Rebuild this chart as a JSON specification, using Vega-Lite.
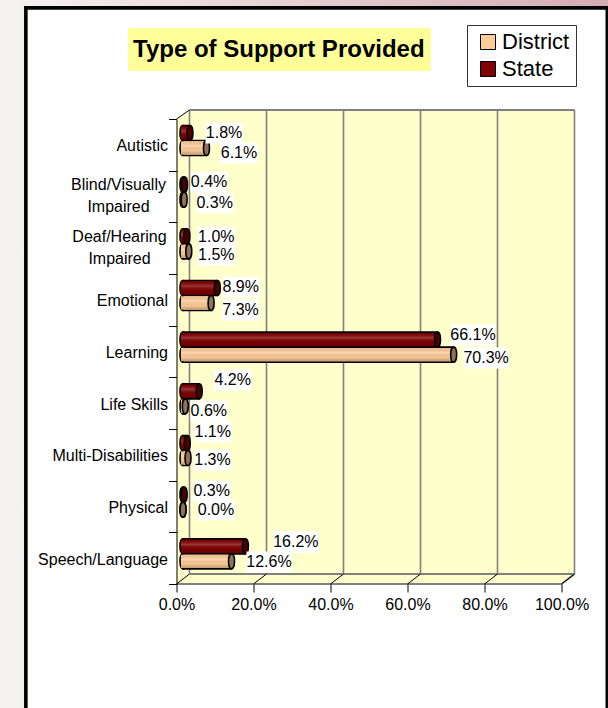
{"$schema":"https://vega.github.io/schema/vega-lite/v6.json","width":385,"height":465,"autosize":"none","padding":{"left":176.5,"top":119,"right":46.5,"bottom":124},"background":"#ffffff",
"title":{"text":"Type of Support Provided","anchor":"start","frame":"group","dx":-43.5,"offset":-86,"baseline":"bottom","font":"Liberation Sans","fontSize":24,"fontWeight":"bold","color":"#000000","zindex":1},
"datasets":{"rows":[
{"id":"AS","category":"Autistic","series":"State","value":0.018},{"id":"AD","category":"Autistic","series":"District","value":0.061},
{"id":"BS","category":"Blind/Visually Impaired","series":"State","value":0.004},{"id":"BD","category":"Blind/Visually Impaired","series":"District","value":0.003},
{"id":"HS","category":"Deaf/Hearing Impaired","series":"State","value":0.010},{"id":"HD","category":"Deaf/Hearing Impaired","series":"District","value":0.015},
{"id":"ES","category":"Emotional","series":"State","value":0.089},{"id":"ED","category":"Emotional","series":"District","value":0.073},
{"id":"LS","category":"Learning","series":"State","value":0.661},{"id":"LD","category":"Learning","series":"District","value":0.703},
{"id":"KS","category":"Life Skills","series":"State","value":0.042},{"id":"KD","category":"Life Skills","series":"District","value":0.006},
{"id":"MS","category":"Multi-Disabilities","series":"State","value":0.011},{"id":"MD","category":"Multi-Disabilities","series":"District","value":0.013},
{"id":"PS","category":"Physical","series":"State","value":0.003},{"id":"PD","category":"Physical","series":"District","value":0.0},
{"id":"SS","category":"Speech/Language","series":"State","value":0.162},{"id":"SD","category":"Speech/Language","series":"District","value":0.126}],
"ticks":[{"t":0},{"t":0.2},{"t":0.4},{"t":0.6},{"t":0.8},{"t":1}],
"wall":[{"x":0,"top":100,"bottom":0},{"x":0.034,"top":101.94,"bottom":0},{"x":1,"top":101.94,"bottom":0},{"x":1.034,"top":101.94,"bottom":2.15}]},
"layer":[
{"layer":[
{"data":{"values":[{"a":1}]},"mark":{"type":"rect","fill":{"gradient":"linear","x1":0,"y1":0,"x2":1,"y2":0,"stops":[{"offset":0,"color":"#f6f3f2"},{"offset":1,"color":"#d4abb5"}]}},
"encoding":{"x":{"datum":-0.4584,"type":"quantitative","scale":{"domain":[0,1],"nice":false},"axis":{"values":[0,0.2,0.4,0.6,0.8,1],"format":".1%","title":null,"grid":false,"domain":false,"ticks":true,"tickColor":"#000000","tickSize":8,"labelFont":"Liberation Sans","labelFontSize":16,"labelColor":"#000000","labelPadding":4,"labelFlush":false,"zindex":1}},"x2":{"datum":1.1208},"y":{"datum":-26.67,"type":"quantitative","scale":{"domain":[0,100],"nice":false,"zero":false},"axis":null},"y2":{"datum":125.6}}},
{"data":{"values":[{"a":1}]},"mark":{"type":"rect","fill":"#ffffff","stroke":"#000000","strokeWidth":3.6},
"encoding":{"x":{"datum":-0.3913,"type":"quantitative","scale":{"domain":[0,1],"nice":false}},"x2":{"datum":1.119},"y":{"datum":-40,"type":"quantitative","scale":{"domain":[0,100],"nice":false,"zero":false}},"y2":{"datum":123.9}}},
{"data":{"values":[{"a":1}]},"mark":{"type":"rect","fill":"#ffff99"},
"encoding":{"x":{"datum":-0.126,"type":"quantitative","scale":{"domain":[0,1],"nice":false}},"x2":{"datum":0.661},"y":{"datum":110.3,"type":"quantitative","scale":{"domain":[0,100],"nice":false,"zero":false}},"y2":{"datum":119.57}}},
{"data":{"name":"wall"},"mark":{"type":"area","fill":"#ffffcc","interpolate":"linear"},
"encoding":{"x":{"field":"x","type":"quantitative","scale":{"domain":[0,1],"nice":false}},"y":{"field":"top","type":"quantitative","scale":{"domain":[0,100],"nice":false,"zero":false}},"y2":{"field":"bottom"}}},
{"data":{"name":"ticks"},"mark":{"type":"rule","color":"#808080","strokeWidth":1.6,"xOffset":13},
"encoding":{"x":{"field":"t","type":"quantitative","scale":{"domain":[0,1],"nice":false}},"y":{"datum":2.15,"type":"quantitative","scale":{"domain":[0,100],"nice":false,"zero":false}},"y2":{"datum":101.94}}},
{"data":{"values":[{"a":1}]},"mark":{"type":"rule","color":"#808080","strokeWidth":2,"xOffset":13,"x2Offset":13},
"encoding":{"x":{"datum":0,"type":"quantitative","scale":{"domain":[0,1],"nice":false}},"x2":{"datum":1},"y":{"datum":101.94,"type":"quantitative","scale":{"domain":[0,100],"nice":false,"zero":false}}}},
{"data":{"values":[{"a":1}]},"mark":{"type":"rule","color":"#808080","strokeWidth":2,"xOffset":13,"x2Offset":13},
"encoding":{"x":{"datum":0,"type":"quantitative","scale":{"domain":[0,1],"nice":false}},"x2":{"datum":1},"y":{"datum":2.15,"type":"quantitative","scale":{"domain":[0,100],"nice":false,"zero":false}}}},
{"data":{"values":[{"a":1}]},"mark":{"type":"rule","color":"#808080","strokeWidth":2},
"encoding":{"x":{"datum":0,"type":"quantitative","scale":{"domain":[0,1],"nice":false}},"x2":{"datum":1},"y":{"datum":0,"type":"quantitative","scale":{"domain":[0,100],"nice":false,"zero":false}}}},
{"data":{"values":[{"a":1}]},"mark":{"type":"rule","color":"#808080","strokeWidth":2,"x2Offset":13},
"encoding":{"x":{"datum":1,"type":"quantitative","scale":{"domain":[0,1],"nice":false}},"x2":{"datum":1},"y":{"datum":0,"type":"quantitative","scale":{"domain":[0,100],"nice":false,"zero":false}},"y2":{"datum":2.15}}},
{"data":{"name":"ticks"},"mark":{"type":"rule","color":"#000000","strokeWidth":1,"x2Offset":13},
"encoding":{"x":{"field":"t","type":"quantitative","scale":{"domain":[0,1],"nice":false}},"x2":{"field":"t"},"y":{"datum":0,"type":"quantitative","scale":{"domain":[0,100],"nice":false,"zero":false}},"y2":{"datum":2.15}}},
{"data":{"values":[{"a":1}]},"mark":{"type":"rule","color":"#000000","strokeWidth":1,"x2Offset":13},
"encoding":{"x":{"datum":0,"type":"quantitative","scale":{"domain":[0,1],"nice":false}},"x2":{"datum":0},"y":{"datum":100,"type":"quantitative","scale":{"domain":[0,100],"nice":false,"zero":false}},"y2":{"datum":101.94}}}
],"resolve":{"scale":{"y":"shared"}}},
{"data":{"name":"rows"},"encoding":{"x":{"field":"value","type":"quantitative","scale":{"domain":[0,1],"nice":false}},"y":{"field":"category","type":"nominal","sort":null,"scale":{"domain":["Autistic","Blind/Visually Impaired","Deaf/Hearing Impaired","Emotional","Learning","Life Skills","Multi-Disabilities","Physical","Speech/Language"],"paddingInner":0,"paddingOuter":0},"axis":{"orient":"left","title":null,"domain":true,"domainColor":"#000000","tickColor":"#000000","tickBand":"extent","tickSize":8,"labelPadding":1,"labelFont":"Liberation Sans","labelFontSize":16,"labelColor":"#000000","labelLimit":200,"labelOffset":1,"zindex":1,"labelExpr":"indexof(datum.label,'Impaired')>=0?'':datum.label"}}},
"layer":[
{"transform":[{"filter":"datum.id=='BS'"}],"mark":{"type":"text","font":"Liberation Sans","fontSize":16,"color":"#000","align":"center","lineHeight":22,"xOffset":-58,"yOffset":-11.3},"encoding":{"x":{"datum":0,"type":"quantitative","scale":{"domain":[0,1],"nice":false}},"text":{"value":["Blind/Visually","Impaired"]}}},
{"transform":[{"filter":"datum.id=='HS'"}],"mark":{"type":"text","font":"Liberation Sans","fontSize":16,"color":"#000","align":"center","lineHeight":22,"xOffset":-57,"yOffset":-11.3},"encoding":{"x":{"datum":0,"type":"quantitative","scale":{"domain":[0,1],"nice":false}},"text":{"value":["Deaf/Hearing","Impaired"]}}},
{"encoding":{"yOffset":{"field":"series","type":"nominal","sort":["State","District"],"scale":{"domain":["State","District"],"range":[6.5,36.5],"paddingInner":0,"paddingOuter":0}}},"layer":[
{"mark":{"type":"point","filled":true,"stroke":"#000000","strokeWidth":1.6,"opacity":1,"xOffset":6.5,"shape":"M0 -1C0.53 -1 0.53 1 0 1C-0.53 1 -0.53 -1 0 -1Z","size":225},"encoding":{"x":{"datum":0,"type":"quantitative","scale":{"domain":[0,1],"nice":false}},"fill":{"field":"series","type":"nominal","scale":{"domain":["District","State"],"range":["#ffcc99","#800000"]},"legend":null}}},
{"mark":{"type":"bar","stroke":"#000000","strokeWidth":1.6,"xOffset":6.5,"x2Offset":6.5},"encoding":{"x2":{"datum":0},"color":{"field":"series","type":"nominal","scale":{"domain":["District","State"],"range":["#ffcc99","#800000"]},"legend":{"title":null,"orient":"none","legendX":290.5,"legendY":-94,"symbolType":"square","symbolSize":225,"symbolOffset":4,"symbolStrokeColor":"#000000","symbolStrokeWidth":1,"labelFont":"Liberation Sans","labelFontSize":22,"labelColor":"#000000","fillColor":"#ffffff","strokeColor":"#333333","padding":6,"rowPadding":5,"labelOffset":3}}}},
{"mark":{"type":"bar","height":13.4,"xOffset":6.5,"x2Offset":4.5},"encoding":{"x2":{"datum":0},"color":{"field":"series","type":"nominal","scale":{"domain":["District","State"],"range":["#ffcc99","#800000"]},"legend":null}}},
{"mark":{"type":"bar","xOffset":6.5,"x2Offset":4.5,"height":13.4,"fill":{"gradient":"linear","x1":0,"y1":0,"x2":0,"y2":1,"stops":[{"offset":0,"color":"rgba(0,0,0,0.05)"},{"offset":0.35,"color":"rgba(255,255,255,0.22)"},{"offset":0.7,"color":"rgba(0,0,0,0.03)"},{"offset":1,"color":"rgba(0,0,0,0.25)"}]}},"encoding":{"x2":{"datum":0}}},
{"mark":{"type":"point","filled":true,"stroke":"#000000","strokeWidth":1.6,"opacity":1,"xOffset":6.5,"shape":"M0 -1C0.53 -1 0.53 1 0 1C-0.53 1 -0.53 -1 0 -1Z","size":225},"encoding":{"fill":{"field":"series","type":"nominal","scale":{"domain":["District","State"],"range":["#8f7358","#4a0000"]},"legend":null}}}
],"resolve":{"scale":{"fill":"independent"}}},
{"transform":[{"filter":"datum.id=='AS'"}],"layer":[{"mark":{"type":"point","filled":true,"color":"#fff","opacity":1,"size":1370,"shape":"M-1 -0.56H1V0.56H-1Z","xOffset":40.6,"yOffset":-11.8}},{"mark":{"type":"text","font":"Liberation Sans","fontSize":16,"color":"#000","xOffset":40.6,"yOffset":-11.8},"encoding":{"text":{"field":"value","type":"quantitative","format":".1%"}}}]},
{"transform":[{"filter":"datum.id=='AD'"}],"layer":[{"mark":{"type":"point","filled":true,"color":"#fff","opacity":1,"size":1370,"shape":"M-1 -0.56H1V0.56H-1Z","xOffset":39,"yOffset":8.2}},{"mark":{"type":"text","font":"Liberation Sans","fontSize":16,"color":"#000","xOffset":39,"yOffset":8.2},"encoding":{"text":{"field":"value","type":"quantitative","format":".1%"}}}]},
{"transform":[{"filter":"datum.id=='BS'"}],"layer":[{"mark":{"type":"point","filled":true,"color":"#fff","opacity":1,"size":1370,"shape":"M-1 -0.56H1V0.56H-1Z","xOffset":31,"yOffset":-14.5}},{"mark":{"type":"text","font":"Liberation Sans","fontSize":16,"color":"#000","xOffset":31,"yOffset":-14.5},"encoding":{"text":{"field":"value","type":"quantitative","format":".1%"}}}]},
{"transform":[{"filter":"datum.id=='BD'"}],"layer":[{"mark":{"type":"point","filled":true,"color":"#fff","opacity":1,"size":1370,"shape":"M-1 -0.56H1V0.56H-1Z","xOffset":37,"yOffset":6.5}},{"mark":{"type":"text","font":"Liberation Sans","fontSize":16,"color":"#000","xOffset":37,"yOffset":6.5},"encoding":{"text":{"field":"value","type":"quantitative","format":".1%"}}}]},
{"transform":[{"filter":"datum.id=='HS'"}],"layer":[{"mark":{"type":"point","filled":true,"color":"#fff","opacity":1,"size":1370,"shape":"M-1 -0.56H1V0.56H-1Z","xOffset":36,"yOffset":-11.1}},{"mark":{"type":"text","font":"Liberation Sans","fontSize":16,"color":"#000","xOffset":36,"yOffset":-11.1},"encoding":{"text":{"field":"value","type":"quantitative","format":".1%"}}}]},
{"transform":[{"filter":"datum.id=='HD'"}],"layer":[{"mark":{"type":"point","filled":true,"color":"#fff","opacity":1,"size":1370,"shape":"M-1 -0.56H1V0.56H-1Z","xOffset":34,"yOffset":6.9}},{"mark":{"type":"text","font":"Liberation Sans","fontSize":16,"color":"#000","xOffset":34,"yOffset":6.9},"encoding":{"text":{"field":"value","type":"quantitative","format":".1%"}}}]},
{"transform":[{"filter":"datum.id=='ES'"}],"layer":[{"mark":{"type":"point","filled":true,"color":"#fff","opacity":1,"size":1370,"shape":"M-1 -0.56H1V0.56H-1Z","xOffset":30,"yOffset":-12.8}},{"mark":{"type":"text","font":"Liberation Sans","fontSize":16,"color":"#000","xOffset":30,"yOffset":-12.8},"encoding":{"text":{"field":"value","type":"quantitative","format":".1%"}}}]},
{"transform":[{"filter":"datum.id=='ED'"}],"layer":[{"mark":{"type":"point","filled":true,"color":"#fff","opacity":1,"size":1370,"shape":"M-1 -0.56H1V0.56H-1Z","xOffset":36,"yOffset":10.2}},{"mark":{"type":"text","font":"Liberation Sans","fontSize":16,"color":"#000","xOffset":36,"yOffset":10.2},"encoding":{"text":{"field":"value","type":"quantitative","format":".1%"}}}]},
{"transform":[{"filter":"datum.id=='LS'"}],"layer":[{"mark":{"type":"point","filled":true,"color":"#fff","opacity":1,"size":2025,"shape":"M-1 -0.47H1V0.47H-1Z","xOffset":42,"yOffset":-16.5}},{"mark":{"type":"text","font":"Liberation Sans","fontSize":16,"color":"#000","xOffset":42,"yOffset":-16.5},"encoding":{"text":{"field":"value","type":"quantitative","format":".1%"}}}]},
{"transform":[{"filter":"datum.id=='LD'"}],"layer":[{"mark":{"type":"point","filled":true,"color":"#fff","opacity":1,"size":2025,"shape":"M-1 -0.47H1V0.47H-1Z","xOffset":39,"yOffset":6.5}},{"mark":{"type":"text","font":"Liberation Sans","fontSize":16,"color":"#000","xOffset":39,"yOffset":6.5},"encoding":{"text":{"field":"value","type":"quantitative","format":".1%"}}}]},
{"transform":[{"filter":"datum.id=='KS'"}],"layer":[{"mark":{"type":"point","filled":true,"color":"#fff","opacity":1,"size":1370,"shape":"M-1 -0.56H1V0.56H-1Z","xOffset":40,"yOffset":-23.1}},{"mark":{"type":"text","font":"Liberation Sans","fontSize":16,"color":"#000","xOffset":40,"yOffset":-23.1},"encoding":{"text":{"field":"value","type":"quantitative","format":".1%"}}}]},
{"transform":[{"filter":"datum.id=='KD'"}],"layer":[{"mark":{"type":"point","filled":true,"color":"#fff","opacity":1,"size":1370,"shape":"M-1 -0.56H1V0.56H-1Z","xOffset":30,"yOffset":7.9}},{"mark":{"type":"text","font":"Liberation Sans","fontSize":16,"color":"#000","xOffset":30,"yOffset":7.9},"encoding":{"text":{"field":"value","type":"quantitative","format":".1%"}}}]},
{"transform":[{"filter":"datum.id=='MS'"}],"layer":[{"mark":{"type":"point","filled":true,"color":"#fff","opacity":1,"size":1370,"shape":"M-1 -0.56H1V0.56H-1Z","xOffset":32,"yOffset":-22.8}},{"mark":{"type":"text","font":"Liberation Sans","fontSize":16,"color":"#000","xOffset":32,"yOffset":-22.8},"encoding":{"text":{"field":"value","type":"quantitative","format":".1%"}}}]},
{"transform":[{"filter":"datum.id=='MD'"}],"layer":[{"mark":{"type":"point","filled":true,"color":"#fff","opacity":1,"size":1370,"shape":"M-1 -0.56H1V0.56H-1Z","xOffset":31,"yOffset":5.2}},{"mark":{"type":"text","font":"Liberation Sans","fontSize":16,"color":"#000","xOffset":31,"yOffset":5.2},"encoding":{"text":{"field":"value","type":"quantitative","format":".1%"}}}]},
{"transform":[{"filter":"datum.id=='PS'"}],"layer":[{"mark":{"type":"point","filled":true,"color":"#fff","opacity":1,"size":1370,"shape":"M-1 -0.56H1V0.56H-1Z","xOffset":34,"yOffset":-15.5}},{"mark":{"type":"text","font":"Liberation Sans","fontSize":16,"color":"#000","xOffset":34,"yOffset":-15.5},"encoding":{"text":{"field":"value","type":"quantitative","format":".1%"}}}]},
{"transform":[{"filter":"datum.id=='PD'"}],"layer":[{"mark":{"type":"point","filled":true,"color":"#fff","opacity":1,"size":1370,"shape":"M-1 -0.56H1V0.56H-1Z","xOffset":39.5,"yOffset":3.5}},{"mark":{"type":"text","font":"Liberation Sans","fontSize":16,"color":"#000","xOffset":39.5,"yOffset":3.5},"encoding":{"text":{"field":"value","type":"quantitative","format":".1%"}}}]},
{"transform":[{"filter":"datum.id=='SS'"}],"layer":[{"mark":{"type":"point","filled":true,"color":"#fff","opacity":1,"size":2025,"shape":"M-1 -0.47H1V0.47H-1Z","xOffset":57,"yOffset":-16.1}},{"mark":{"type":"text","font":"Liberation Sans","fontSize":16,"color":"#000","xOffset":57,"yOffset":-16.1},"encoding":{"text":{"field":"value","type":"quantitative","format":".1%"}}}]},
{"transform":[{"filter":"datum.id=='SD'"}],"layer":[{"mark":{"type":"point","filled":true,"color":"#fff","opacity":1,"size":2025,"shape":"M-1 -0.47H1V0.47H-1Z","xOffset":44,"yOffset":3.9}},{"mark":{"type":"text","font":"Liberation Sans","fontSize":16,"color":"#000","xOffset":44,"yOffset":3.9},"encoding":{"text":{"field":"value","type":"quantitative","format":".1%"}}}]}
]}
],"resolve":{"scale":{"y":"independent"},"axis":{"y":"independent"}},"config":{"view":{"stroke":null}}}
